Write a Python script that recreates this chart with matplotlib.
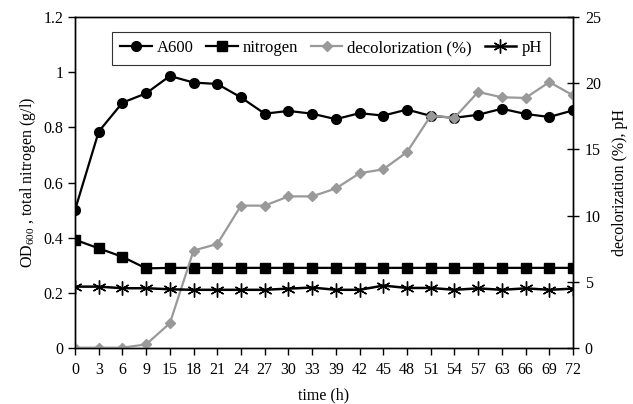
import matplotlib
matplotlib.use("Agg")
import matplotlib.pyplot as plt
import numpy as np

plt.rcParams['font.family'] = ['Liberation Serif', 'DejaVu Serif']
plt.rcParams['mathtext.fontset'] = 'custom'
plt.rcParams['mathtext.rm'] = 'Liberation Serif'

time_labels = ["0", "3", "6", "9", "15", "18", "21", "24", "27", "30", "33", "39",
               "42", "45", "48", "51", "54", "57", "63", "66", "69", "72"]
a600 = [0.50, 0.785, 0.89, 0.924, 0.987, 0.963, 0.958, 0.909, 0.850, 0.860, 0.850, 0.830,
        0.852, 0.843, 0.865, 0.842, 0.835, 0.846, 0.868, 0.849, 0.838, 0.862]
nitrogen = [0.392, 0.361, 0.330, 0.288, 0.290, 0.290, 0.290, 0.290, 0.290, 0.290, 0.290, 0.290,
            0.290, 0.290, 0.290, 0.290, 0.290, 0.290, 0.290, 0.290, 0.290, 0.290]
decolorization = [0.0, 0.0, 0.0, 0.25, 1.85, 7.35, 7.85, 10.75, 10.75, 11.45, 11.45, 12.05,
                  13.2, 13.5, 14.8, 17.55, 17.4, 19.35, 18.95, 18.9, 20.1, 19.1]
ph = [4.62, 4.62, 4.50, 4.50, 4.42, 4.38, 4.38, 4.38, 4.38, 4.47, 4.55, 4.38,
      4.38, 4.70, 4.52, 4.52, 4.38, 4.49, 4.38, 4.49, 4.38, 4.47]

x = np.arange(len(time_labels))

fig = plt.figure(figsize=(6.33, 4.04), dpi=100)
ax = fig.add_axes([0.1185, 0.1394, 0.7867, 0.8177])
ax2 = ax.twinx()

l1, = ax.plot(x, a600, color='black', marker='o', markersize=7, linewidth=1.6, label='A600')
l2, = ax.plot(x, nitrogen, color='black', marker='s', markersize=7, linewidth=1.6, label='nitrogen')
l3, = ax2.plot(x, decolorization, color='#999999', marker='D', markersize=5.5, linewidth=1.6,
               label='decolorization (%)')
l4, = ax2.plot(x, ph, color='black', marker=(6, 2, 0), markersize=10, markeredgewidth=1.0,
               linewidth=1.8, label='pH')

ax.set_xlim(0, len(time_labels) - 1)
ax.set_ylim(0, 1.2)
ax2.set_ylim(0, 25)
ax.set_xticks(x)
ax.set_xticklabels(time_labels)
ax.set_yticks([0, 0.2, 0.4, 0.6, 0.8, 1.0, 1.2])
ax.set_yticklabels(["0", "0.2", "0.4", "0.6", "0.8", "1", "1.2"])
ax2.set_yticks([0, 5, 10, 15, 20, 25])

ax.tick_params(axis='both', direction='out', length=5, width=1, labelsize=11.5, color='black')
ax.tick_params(axis='x', pad=5)
ax2.tick_params(axis='y', direction='inout', length=9, width=1, labelsize=11.5, pad=4)

for sp in ax.spines.values():
    sp.set_linewidth(1.0)
for sp in ax2.spines.values():
    sp.set_linewidth(1.0)

ax.set_xlabel('time (h)', fontsize=11.5, labelpad=7)
ax.set_ylabel(r'OD$_{\mathrm{600}}$ , total nitrogen (g/l)', fontsize=11.5, labelpad=4)
ax2.set_ylabel('decolorization (%), pH', fontsize=11.5, labelpad=8)

leg = ax.legend(handles=[l1, l2, l3, l4], loc='upper left', bbox_to_anchor=(0.074, 0.956),
                ncol=4, frameon=True, fancybox=False, edgecolor='black', fontsize=12,
                handlelength=1.9, columnspacing=0.75, handletextpad=0.3, borderpad=0.5,
                borderaxespad=0.0)
leg.get_frame().set_linewidth(0.8)

fig.savefig('out.png', dpi=100)
